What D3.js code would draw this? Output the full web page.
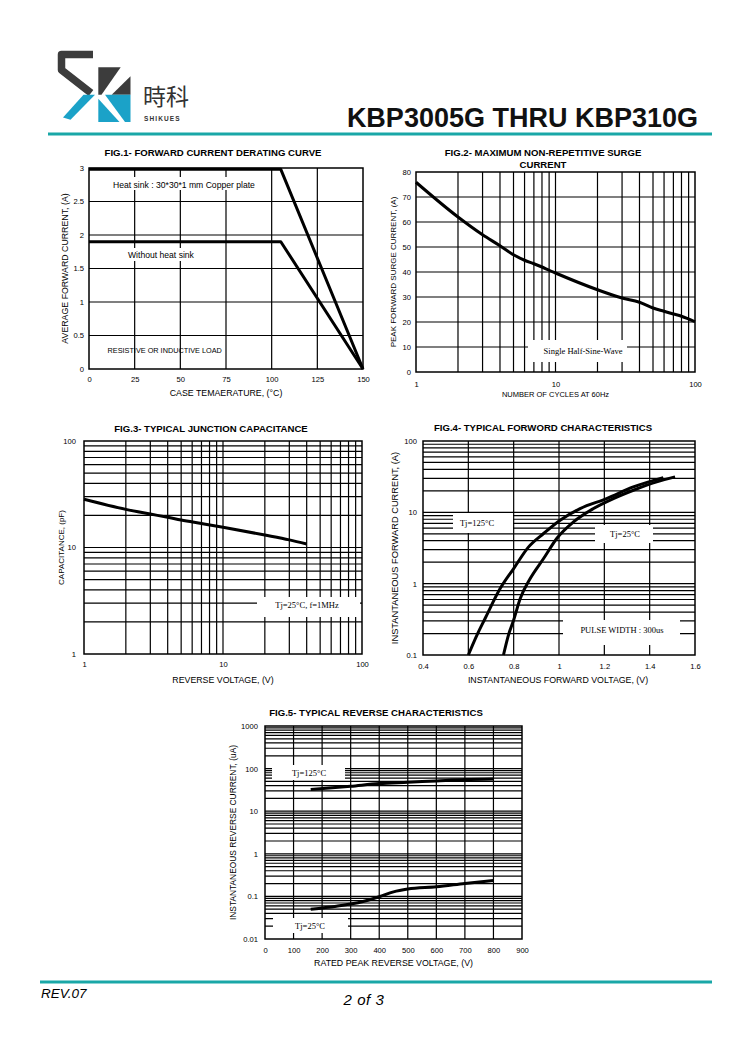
<!DOCTYPE html>
<html>
<head>
<meta charset="utf-8">
<script src="https://cdn.jsdelivr.net/npm/d3@7"></script>
<style>
  body { margin: 0; background: #fff; }
  text { font-family: Arial, "Liberation Sans", sans-serif; }
</style>
</head>
<body>
<div id="page"></div>
<script>
// ---- data ----
const fig1Temp = [0, 105, 150];
const fig1HeatSink = [2.98, 2.98, 0];
const fig1NoSink = [1.9, 1.9, 0];
const fig1XTicks = [0, 25, 50, 75, 100, 125, 150];
const fig1YTicks = [0, 0.5, 1, 1.5, 2, 2.5, 3];

const fig2Cycles = [1, 2, 3, 4, 5, 6, 7, 8, 9, 10, 20, 30, 40, 50, 60, 70, 80, 100];
const fig2Current = [75.9, 62, 54.9, 50.5, 46.9, 44.7, 43.3, 42, 40.7, 39.6, 32.9, 29.6, 27.9, 25.6, 24.3, 23.2, 22.3, 20.1];
const fig2XTicks = [1, 10, 100];
const fig2YTicks = [0, 10, 20, 30, 40, 50, 60, 70, 80];

const fig3Voltage = [1, 2, 3, 4, 5, 7, 10, 20, 30, 40];
const fig3Cap = [28.4, 22.8, 20.6, 19.2, 18.1, 16.8, 15.5, 13.1, 11.8, 10.8];
const fig3XTicks = [1, 10, 100];
const fig3YTicks = [1, 10, 100];

const fig4V125 = [0.6, 0.638, 0.675, 0.741, 0.8, 0.866, 0.932, 1.005, 1.093, 1.21, 1.328, 1.46];
const fig4I125 = [0.1, 0.19, 0.33, 0.86, 1.63, 3.28, 5.05, 7.76, 11.3, 15.6, 22.7, 30.7];
const fig4V25 = [0.755, 0.777, 0.8, 0.829, 0.873, 0.932, 0.99, 1.064, 1.152, 1.24, 1.328, 1.431, 1.512];
const fig4I25 = [0.1, 0.19, 0.31, 0.62, 1.18, 2.25, 4.3, 7.35, 11.3, 15.6, 20.4, 26.7, 31.4];
const fig4XTicks = [0.4, 0.6, 0.8, 1, 1.2, 1.4, 1.6];
const fig4YTicks = [0.1, 1, 10, 100];

const fig5Volt = [160, 300, 400, 500, 600, 700, 800];
const fig5I125 = [32.2, 38.5, 44.5, 47.8, 51.4, 55.2, 57.3];
const fig5Volt25 = [160, 250, 300, 350, 400, 450, 500, 600, 700, 800];
const fig5I25 = [0.05, 0.059, 0.066, 0.078, 0.098, 0.128, 0.149, 0.168, 0.201, 0.237];
const fig5XTicks = [0, 100, 200, 300, 400, 500, 600, 700, 800, 900];
const fig5YTicks = [0.01, 0.1, 1, 10, 100, 1000];

const teal = "#19a7a7";
const svg = d3.select("#page").append("svg")
  .attr("width", 750).attr("height", 1061);

// ---- header ----
const logo = svg.append("g");
logo.append("path")
  .attr("d", "M93,54.5 L61.5,54.5 L61.5,70 L91,93")
  .attr("fill", "none").attr("stroke", "#3c3c3c").attr("stroke-width", 7.5)
  .attr("stroke-linejoin", "round");
logo.append("path").attr("d", "M83.5,94.7 L95,94.7 L70.5,119.8 L63,117.5 Z").attr("fill", "#1ba2c8");
logo.append("path").attr("d", "M98.3,67.3 L120.7,67.3 L101.5,94.7 L98.3,94.7 Z").attr("fill", "#3c3c3c");
logo.append("path").attr("d", "M130.5,76.3 L130.5,94.7 L111.7,94.7 Z").attr("fill", "#3c3c3c");
logo.append("path").attr("d", "M98.3,98.7 L98.3,122 L119.5,122 Z").attr("fill", "#1ba2c8");
logo.append("path").attr("d", "M105,94.7 L130.5,94.7 L130.5,122 L125,122 Z").attr("fill", "#1ba2c8");
logo.append("text").attr("x", 143).attr("y", 105)
  .style("font-family", "'Noto Sans CJK TC', 'Noto Sans CJK SC', sans-serif")
  .attr("font-size", 23).attr("fill", "#333").text("時科");
logo.append("text").attr("x", 144).attr("y", 120.5)
  .attr("font-size", 6.5).attr("font-weight", "bold").attr("letter-spacing", 1.1)
  .attr("fill", "#333").text("SHIKUES");

svg.append("text").attr("x", 698).attr("y", 127).attr("text-anchor", "end")
  .attr("font-size", 27).attr("font-weight", "bold").attr("fill", "#111")
  .text("KBP3005G THRU KBP310G");
svg.append("line").attr("x1", 48).attr("x2", 712).attr("y1", 134).attr("y2", 134)
  .attr("stroke", teal).attr("stroke-width", 3);

// ---- footer ----
svg.append("line").attr("x1", 40).attr("x2", 712).attr("y1", 982).attr("y2", 982)
  .attr("stroke", teal).attr("stroke-width", 3);
svg.append("text").attr("x", 41).attr("y", 998).attr("font-size", 13.5)
  .attr("font-style", "italic").text("REV.07");
svg.append("text").attr("x", 364).attr("y", 1005).attr("font-size", 15)
  .attr("letter-spacing", 0.6)
  .attr("text-anchor", "middle").attr("font-style", "italic").text("2 of 3");

// ---- one chart panel ----
function panel(o) {
  const g = svg.append("g");
  const [x0, x1] = o.x.range();
  const [y0, y1] = o.y.range();

  g.append("g").selectAll("line").data(o.xGrid).join("line")
    .attr("x1", d => o.x(d)).attr("x2", d => o.x(d))
    .attr("y1", y1).attr("y2", y0)
    .attr("stroke", "#000").attr("stroke-width", 1.2);
  g.append("g").selectAll("line").data(o.yGrid).join("line")
    .attr("y1", d => o.y(d)).attr("y2", d => o.y(d))
    .attr("x1", x0).attr("x2", x1)
    .attr("stroke", "#000").attr("stroke-width", 1.2);

  // annotation labels, white box knocks out the grid
  (o.notes || []).forEach(n => {
    if (n.box) {
      g.append("rect").attr("x", n.box[0]).attr("y", n.box[1])
        .attr("width", n.box[2]).attr("height", n.box[3]).attr("fill", "#fff");
    }
    const t = g.append("text").attr("x", n.x).attr("y", n.y)
      .attr("font-size", n.size).attr("text-anchor", n.anchor || "start")
      .text(n.text);
    if (n.serif) t.style("font-family", "'Liberation Serif', 'Times New Roman', serif");
  });

  const line = d3.line()
    .x(d => o.x(d[0])).y(d => o.y(d[1]))
    .curve(o.curve || d3.curveLinear);
  o.series.forEach(s => {
    g.append("path").attr("d", line(s))
      .attr("fill", "none").attr("stroke", "#000")
      .attr("stroke-width", 3).attr("stroke-linejoin", "round");
  });

  g.append("rect").attr("x", x0).attr("y", y1)
    .attr("width", x1 - x0).attr("height", y0 - y1)
    .attr("fill", "none").attr("stroke", "#000").attr("stroke-width", 1.5);

  const xa = g.append("g").attr("transform", `translate(0,${y0})`)
    .call(d3.axisBottom(o.x).tickValues(o.xTicks).tickSize(0)
      .tickPadding(o.xPad).tickFormat(o.xFmt || (d => d)));
  xa.select(".domain").remove();
  xa.attr("font-family", null).attr("font-size", 7.6);

  const ya = g.append("g").attr("transform", `translate(${x0},0)`)
    .call(d3.axisLeft(o.y).tickValues(o.yTicks).tickSize(0)
      .tickPadding(o.yPad).tickFormat(o.yFmt || (d => d)));
  ya.select(".domain").remove();
  ya.attr("font-family", null).attr("font-size", 7.6);

  o.title.forEach((t, i) => {
    g.append("text").attr("x", o.titleX).attr("y", o.titleY + i * 12)
      .attr("text-anchor", "middle").attr("font-size", 9.6)
      .attr("font-weight", "bold").text(t);
  });
  g.append("text").attr("x", (x0 + x1) / 2 + (o.xLabelDx || 0)).attr("y", y0 + o.xLabelDy)
    .attr("text-anchor", "middle").attr("font-size", o.xLabelSize || 8.8)
    .text(o.xLabel);
  g.append("text")
    .attr("transform", `translate(${o.yLabelX},${(y0 + y1) / 2}) rotate(-90)`)
    .attr("text-anchor", "middle").attr("dominant-baseline", "central")
    .attr("font-size", o.yLabelSize || 8.8).text(o.yLabel);
}

// FIG.1
const x1s = d3.scaleLinear().domain([0, 150]).range([89, 363]);
const y1s = d3.scaleLinear().domain([0, 3]).range([369, 168]);
panel({
  x: x1s, y: y1s,
  xGrid: fig1XTicks.slice(1, -1), yGrid: fig1YTicks.slice(1, -1),
  xTicks: fig1XTicks, yTicks: fig1YTicks, xPad: 8, yPad: 5,
  series: [d3.zip(fig1Temp, fig1HeatSink), d3.zip(fig1Temp, fig1NoSink)],
  notes: [
    { box: [108, 177, 152, 13], x: 113, y: 187.5, size: 8.6, text: "Heat sink : 30*30*1 mm Copper plate" },
    { box: [124, 248, 76, 13], x: 128, y: 258, size: 8.6, text: "Without heat sink" },
    { x: 107.5, y: 352.5, size: 7.3, text: "RESISTIVE OR INDUCTIVE LOAD" }
  ],
  title: ["FIG.1- FORWARD CURRENT DERATING CURVE"], titleX: 213, titleY: 156,
  xLabel: "CASE TEMAERATURE, (°C)", xLabelDy: 27, xLabelDx: 0,
  yLabel: "AVERAGE FORWARD CURRENT, (A)", yLabelX: 65
});

// FIG.2
const x2s = d3.scaleLog().domain([1, 100]).range([416, 695]);
const y2s = d3.scaleLinear().domain([0, 80]).range([372, 172]);
panel({
  x: x2s, y: y2s,
  xGrid: x2s.ticks().filter(d => d > 1 && d < 100), yGrid: fig2YTicks.slice(1, -1),
  xTicks: fig2XTicks, yTicks: fig2YTicks, xPad: 10, yPad: 5,
  curve: d3.curveMonotoneX,
  series: [d3.zip(fig2Cycles, fig2Current)],
  notes: [
    { box: [528, 340, 99, 22], x: 583, y: 353.5, size: 8.5, anchor: "middle", serif: true, text: "Single Half-Sine-Wave" }
  ],
  title: ["FIG.2- MAXIMUM NON-REPETITIVE SURGE", "CURRENT"], titleX: 543, titleY: 156,
  xLabel: "NUMBER OF CYCLES AT 60Hz", xLabelDy: 25, xLabelDx: 0, xLabelSize: 7.5,
  yLabel: "PEAK FORWARD SURGE CURRENT, (A)", yLabelX: 393, yLabelSize: 8
});

// FIG.3
const x3s = d3.scaleLog().domain([1, 100]).range([84, 362]);
const y3s = d3.scaleLog().domain([1, 100]).range([654, 441]);
panel({
  x: x3s, y: y3s,
  xGrid: x3s.ticks().filter(d => d > 1 && d < 100), yGrid: y3s.ticks().filter(d => d > 1 && d < 100),
  xTicks: fig3XTicks, yTicks: fig3YTicks, xPad: 8, yPad: 8,
  curve: d3.curveMonotoneX,
  series: [d3.zip(fig3Voltage, fig3Cap)],
  notes: [
    { box: [257, 597, 103, 20], x: 307, y: 607.5, size: 8.5, anchor: "middle", serif: true, text: "Tj=25°C, f=1MHz" }
  ],
  title: ["FIG.3- TYPICAL JUNCTION CAPACITANCE"], titleX: 211, titleY: 431.5,
  xLabel: "REVERSE VOLTAGE, (V)", xLabelDy: 29, xLabelDx: 0,
  yLabel: "CAPACITANCE, (pF)", yLabelX: 61, yLabelSize: 8
});

// FIG.4
const x4s = d3.scaleLinear().domain([0.4, 1.6]).range([423, 695]);
const y4s = d3.scaleLog().domain([0.1, 100]).range([655, 441]);
panel({
  x: x4s, y: y4s,
  xGrid: fig4XTicks.slice(1, -1), yGrid: y4s.ticks().filter(d => d > 0.1 && d < 100),
  xTicks: fig4XTicks, yTicks: fig4YTicks, xPad: 9, yPad: 6,
  curve: d3.curveMonotoneX,
  series: [d3.zip(fig4V125, fig4I125), d3.zip(fig4V25, fig4I25)],
  notes: [
    { box: [453, 513, 60, 20], x: 477, y: 525.5, size: 8.5, anchor: "middle", serif: true, text: "Tj=125°C" },
    { box: [595, 525, 58, 18], x: 625, y: 536.5, size: 8.5, anchor: "middle", serif: true, text: "Tj=25°C" },
    { box: [563, 620, 117, 25], x: 622, y: 633, size: 8.5, anchor: "middle", serif: true, text: "PULSE WIDTH : 300us" }
  ],
  title: ["FIG.4- TYPICAL FORWORD CHARACTERISTICS"], titleX: 543, titleY: 431,
  xLabel: "INSTANTANEOUS FORWARD VOLTAGE, (V)", xLabelDy: 28, xLabelDx: -1,
  yLabel: "INSTANTANEOUS FORWARD CURRENT, (A)", yLabelX: 395, yLabelSize: 9.3
});

// FIG.5
const x5s = d3.scaleLinear().domain([0, 900]).range([265, 522]);
const y5s = d3.scaleLog().domain([0.01, 1000]).range([939, 726]);
panel({
  x: x5s, y: y5s,
  xGrid: fig5XTicks.slice(1, -1), yGrid: y5s.ticks().filter(d => d > 0.01 && d < 1000),
  xTicks: fig5XTicks, yTicks: fig5YTicks, xPad: 9, yPad: 7,
  curve: d3.curveMonotoneX,
  series: [d3.zip(fig5Volt, fig5I125), d3.zip(fig5Volt25, fig5I25)],
  notes: [
    { box: [272, 765, 73, 15], x: 309, y: 775.5, size: 8.5, anchor: "middle", serif: true, text: "Tj=125°C" },
    { box: [273, 918, 75, 15], x: 310, y: 928.5, size: 8.5, anchor: "middle", serif: true, text: "Tj=25°C" }
  ],
  title: ["FIG.5- TYPICAL REVERSE CHARACTERISTICS"], titleX: 376, titleY: 716,
  xLabel: "RATED PEAK REVERSE VOLTAGE, (V)", xLabelDy: 27, xLabelDx: 0,
  yLabel: "INSTANTANEOUS REVERSE CURRENT, (uA)", yLabelX: 233, yLabelSize: 8.4
});
</script>
</body>
</html>
